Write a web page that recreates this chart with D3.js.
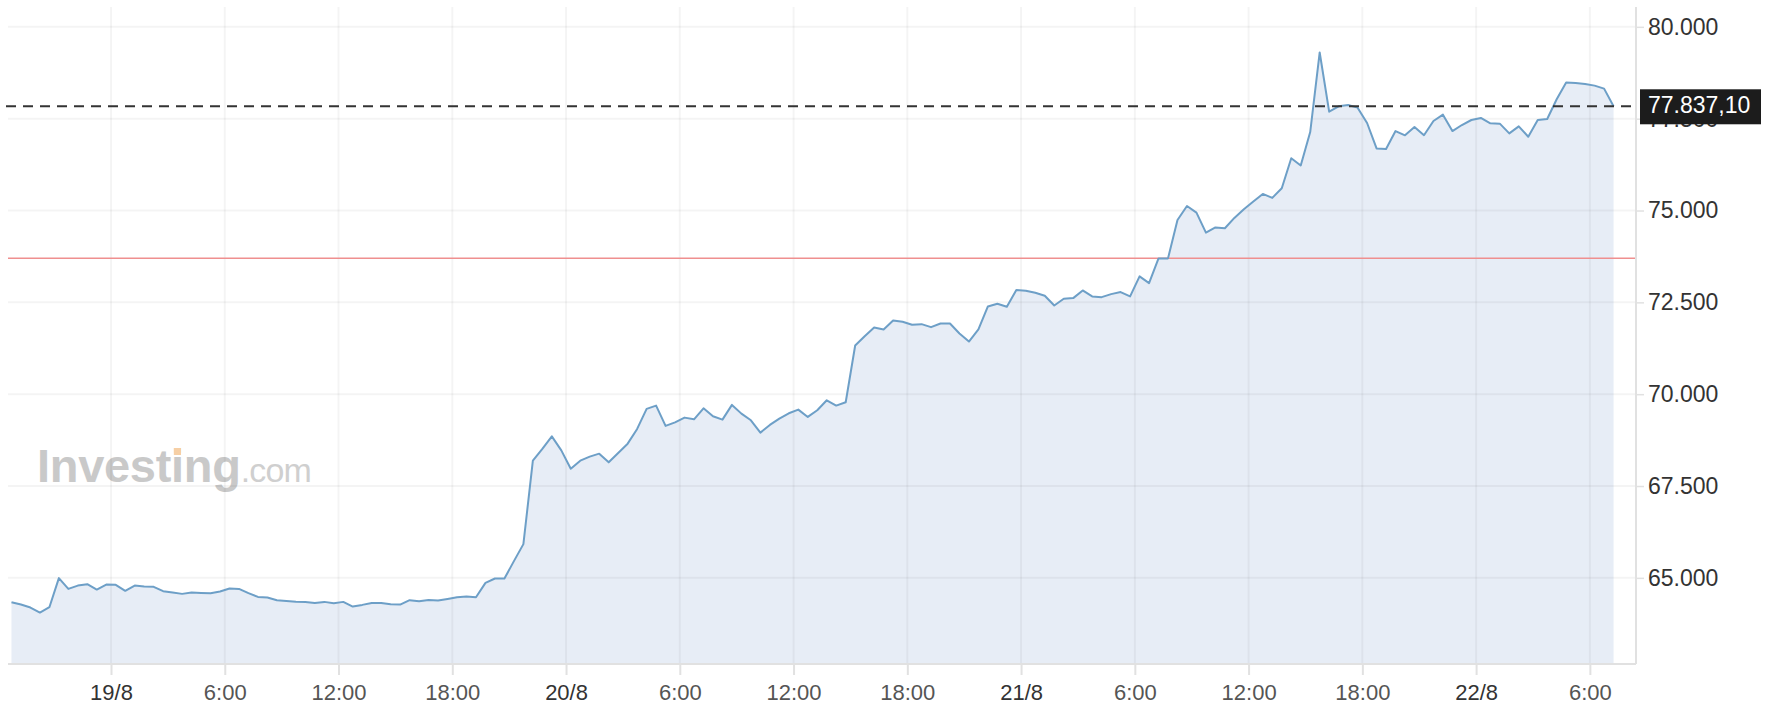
<!DOCTYPE html>
<html><head><meta charset="utf-8">
<script src="https://cdn.jsdelivr.net/npm/d3@7/dist/d3.min.js"></script>
<style>body{margin:0;background:#fff;} svg{display:block;}</style>
</head><body>
<svg id="chart" width="1778" height="722"></svg>
<script>
// ---- data ----
const startTime = "2024-08-18T18:45";
const stepMinutes = 30;
const values = [
64338,64273,64191,64055,64200,64992,64700,64790,64828,64681,
64817,64809,64646,64790,64763,64755,64637,64600,64564,64600,
64591,64583,64627,64709,64700,64583,64482,64463,64392,64373,
64350,64346,64318,64346,64310,64346,64218,64264,64318,64318,
64282,64273,64392,64364,64400,64382,64427,64473,64491,64473,
64864,64982,64982,65455,65918,68190,68509,68852,68470,67972,
68190,68299,68381,68145,68400,68653,69054,69599,69689,69136,
69234,69362,69316,69616,69398,69307,69708,69471,69289,68953,
69163,69335,69480,69580,69381,69562,69834,69689,69780,71325,
71579,71816,71761,72006,71971,71889,71907,71825,71925,71925,
71652,71434,71761,72388,72462,72380,72834,72816,72761,72680,
72415,72598,72615,72824,72661,72642,72724,72779,72661,73206,
73024,73697,73697,74741,75123,74942,74397,74540,74516,74798,
75033,75243,75452,75343,75606,76424,76225,77135,79302,77691,
77836,77874,77800,77382,76690,76672,77163,77046,77272,77050,
77437,77610,77163,77327,77464,77519,77373,77364,77100,77291,
77009,77464,77491,78028,78482,78473,78446,78400,78318,77837.10
];
const lastPrice = 77837.10;
const lastPriceLabel = "77.837,10";
const refLevel = 73700;
const yTicks = [65000, 67500, 70000, 72500, 75000, 77500, 80000];
const xTickTimes = ["2024-08-19T00:00","2024-08-19T06:00","2024-08-19T12:00","2024-08-19T18:00",
  "2024-08-20T00:00","2024-08-20T06:00","2024-08-20T12:00","2024-08-20T18:00",
  "2024-08-21T00:00","2024-08-21T06:00","2024-08-21T12:00","2024-08-21T18:00",
  "2024-08-22T00:00","2024-08-22T06:00"];
const xTickLabels = ["19/8","6:00","12:00","18:00","20/8","6:00","12:00","18:00","21/8","6:00","12:00","18:00","22/8","6:00"];
const xDomain = ["2024-08-18T18:34","2024-08-22T08:26"];
const yDomain = [62655, 80540];

// ---- layout ----
const plot = {left: 8, right: 1636, top: 7, bottom: 664};
const parse = d3.timeParse("%Y-%m-%dT%H:%M");
const t0 = parse(startTime);
const data = values.map((v, i) => ({t: d3.timeMinute.offset(t0, i * stepMinutes), v}));

const x = d3.scaleTime().domain(xDomain.map(parse)).range([plot.left, plot.right]);
const y = d3.scaleLinear().domain(yDomain).range([plot.bottom, plot.top]);

const svg = d3.select("#chart");

// watermark
const wm = svg.append("text").attr("x", 37).attr("y", 482)
  .attr("font-family", "Liberation Sans, Arial, sans-serif").attr("fill", "#c9c9c9");
wm.append("tspan").attr("font-weight", "bold").attr("font-size", 47).attr("letter-spacing", -0.3).text("Investing");
wm.append("tspan").attr("font-size", 34).attr("letter-spacing", -0.8).attr("fill", "#cfcfcf").text(".com");
// orange accent on the dot of the second "i"
try {
  const ext = wm.node().getExtentOfChar(6);
  svg.append("rect").attr("x", ext.x + ext.width * 0.22).attr("y", 482 - 34)
    .attr("width", ext.width * 0.56).attr("height", 7).attr("fill", "#f6cfa5");
} catch (e) {}

// area
svg.append("path").datum(data)
  .attr("fill", "#e7edf6")
  .attr("d", d3.area().x(d => x(d.t)).y0(y(yDomain[0])).y1(d => y(d.v)));

// gridlines
const grid = svg.append("g");
grid.selectAll("line.h").data(yTicks).join("line")
  .attr("x1", plot.left).attr("x2", plot.right)
  .attr("y1", d => y(d)).attr("y2", d => y(d))
  .attr("stroke", "rgba(0,0,0,0.045)").attr("stroke-width", 2);
grid.selectAll("line.v").data(xTickTimes).join("line")
  .attr("x1", d => x(parse(d))).attr("x2", d => x(parse(d)))
  .attr("y1", plot.top).attr("y2", plot.bottom)
  .attr("stroke", "rgba(0,0,0,0.045)").attr("stroke-width", 2);

// reference (red) line
svg.append("line").attr("x1", plot.left).attr("x2", plot.right)
  .attr("y1", y(refLevel)).attr("y2", y(refLevel))
  .attr("stroke", "#ef8f8f").attr("stroke-width", 1.5);

// price line
svg.append("path").datum(data)
  .attr("fill", "none").attr("stroke", "#6d9fc7").attr("stroke-width", 2)
  .attr("stroke-linejoin", "round")
  .attr("d", d3.line().x(d => x(d.t)).y(d => y(d.v)));

// last price dashed line
svg.append("line").attr("x1", plot.left - 2).attr("x2", plot.right)
  .attr("y1", y(lastPrice)).attr("y2", y(lastPrice))
  .attr("stroke", "#333").attr("stroke-width", 2).attr("stroke-dasharray", "10,7");

// axes frame
svg.append("line").attr("x1", plot.left).attr("x2", plot.right)
  .attr("y1", plot.bottom).attr("y2", plot.bottom)
  .attr("stroke", "#e1e1e1").attr("stroke-width", 2);
svg.append("line").attr("x1", plot.right).attr("x2", plot.right)
  .attr("y1", plot.top).attr("y2", plot.bottom)
  .attr("stroke", "#e1e1e1").attr("stroke-width", 2);

// x axis
const xAxis = d3.axisBottom(x)
  .tickValues(xTickTimes.map(parse))
  .tickFormat((d, i) => xTickLabels[i])
  .tickSize(10).tickPadding(9);
const gx = svg.append("g").attr("transform", `translate(0,${plot.bottom + 1})`).call(xAxis);
gx.select(".domain").remove();
gx.selectAll(".tick line").attr("stroke", "#e1e1e1").attr("stroke-width", 2);
gx.selectAll(".tick text")
  .attr("font-family", "Liberation Sans Narrow, Arial Narrow, sans-serif")
  .attr("font-size", 22)
  .attr("fill", (d, i) => xTickLabels[i].includes("/") ? "#333" : "#555");

// y axis
const yAxis = d3.axisRight(y).tickValues(yTicks)
  .tickFormat(d => d3.format(",.3f")(d / 1000).replace(",", ""))
  .tickSize(8).tickPadding(4);
const gy = svg.append("g").attr("transform", `translate(${plot.right},0)`).call(yAxis);
gy.select(".domain").remove();
gy.selectAll(".tick line").attr("stroke", "#e1e1e1").attr("stroke-width", 1.5);
gy.selectAll(".tick text")
  .attr("font-family", "Liberation Sans, Arial, sans-serif")
  .attr("font-size", 23).attr("fill", "#333");

// last price label (covers the 77.500 tick label, as in the original)
const ly = y(lastPrice);
svg.append("rect").attr("x", plot.right + 4).attr("y", ly - 17).attr("width", 121).attr("height", 35)
  .attr("fill", "#1c1c1c");
svg.append("text").attr("x", plot.right + 12).attr("y", ly + 1)
  .attr("dominant-baseline", "middle")
  .attr("font-family", "Liberation Sans, Arial, sans-serif")
  .attr("font-size", 23).attr("fill", "#fff").text(lastPriceLabel);
</script>
</body></html>
